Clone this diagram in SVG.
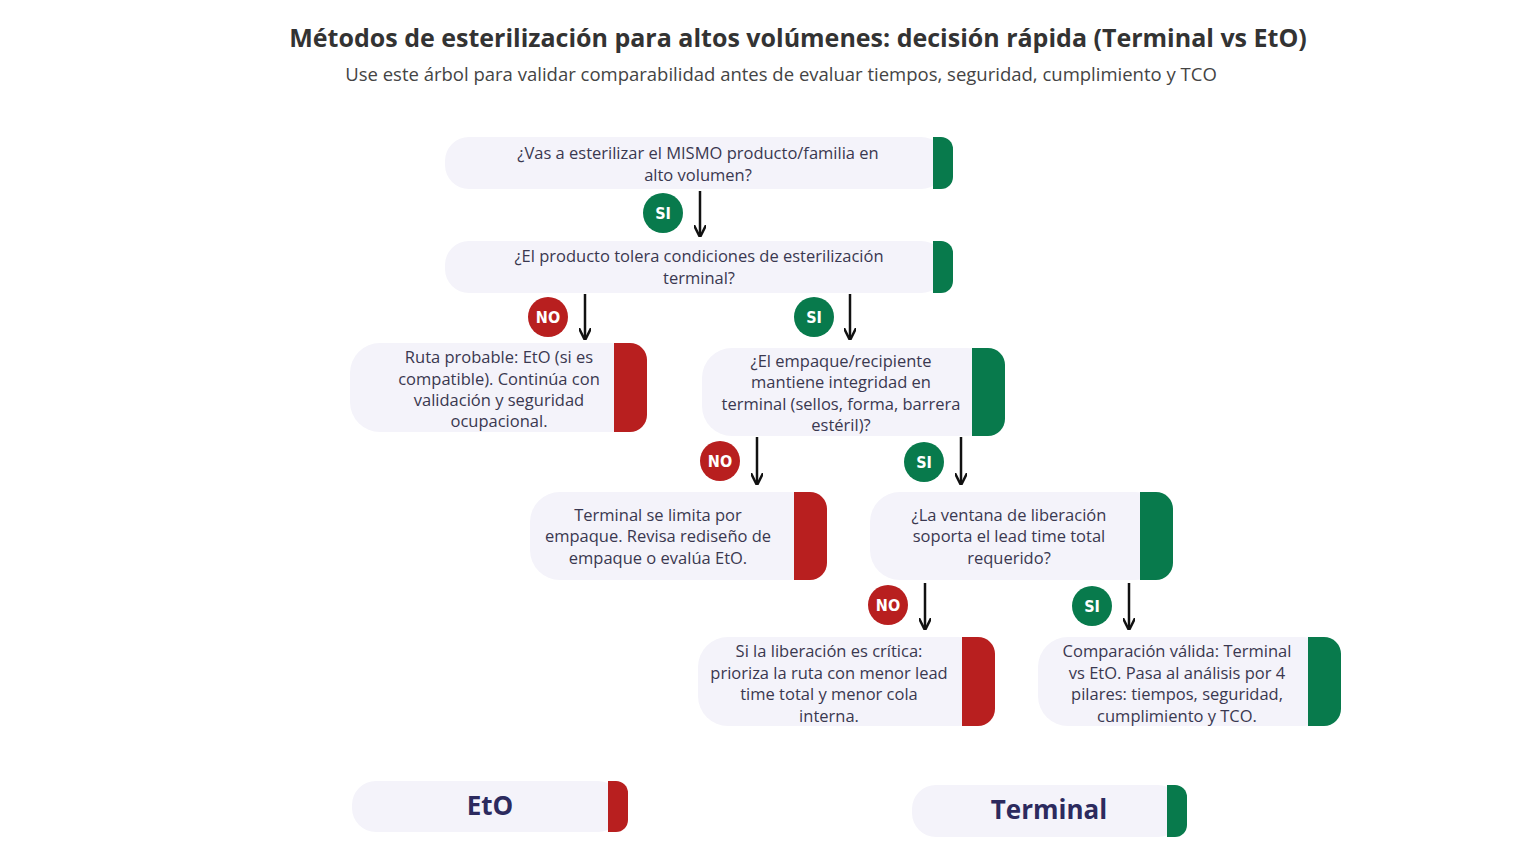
<svg xmlns="http://www.w3.org/2000/svg" width="1536" height="864" viewBox="0 0 1536 864">
<defs>
<style>
.bg{fill:#f4f3fa}
.g{fill:#087a4c}
.r{fill:#b81f1f}
.t{font-family:"Open Sans","Liberation Sans",sans-serif;font-size:16.5px;fill:#3a3850;text-anchor:middle}
.big{font-family:"Open Sans","Liberation Sans",sans-serif;font-size:26px;font-weight:bold;fill:#2c2a5e;text-anchor:middle}
.b{font-family:"DejaVu Sans Condensed","DejaVu Sans",sans-serif;font-weight:bold;font-size:16px;fill:#fff;text-anchor:middle}
.c{stroke:#111;stroke-width:2.5;fill:none;marker-end:url(#ah)}
</style>
<marker id="ah" viewBox="0 0 10 10" refX="9" refY="5" markerWidth="5" markerHeight="5" orient="auto"><path d="M0,0 L10,5 L0,10" fill="none" stroke="#111" stroke-width="2"/></marker>
</defs>
<rect width="1536" height="864" fill="#fff"/>
<text x="798" y="47" font-family="Open Sans,Liberation Sans,sans-serif" font-size="25" font-weight="bold" fill="#333" text-anchor="middle">Métodos de esterilización para altos volúmenes: decisión rápida (Terminal vs EtO)</text>
<text x="781" y="81" font-family="Open Sans,Liberation Sans,sans-serif" font-size="18.5" fill="#444" text-anchor="middle">Use este árbol para validar comparabilidad antes de evaluar tiempos, seguridad, cumplimiento y TCO</text>

<g id="n1"><rect class="bg" x="445" y="137" width="500" height="52" rx="24"/><path class="g" d="M933,137h8a12,12 0 0 1 12,12v28a12,12 0 0 1 -12,12h-8z"/><text class="t" x="698" y="159">¿Vas a esterilizar el MISMO producto/familia en</text><text class="t" x="698" y="181">alto volumen?</text></g>
<g id="n2"><rect class="bg" x="445" y="241" width="500" height="52" rx="24"/><path class="g" d="M933,241h8a12,12 0 0 1 12,12v28a12,12 0 0 1 -12,12h-8z"/><text class="t" x="699" y="262">¿El producto tolera condiciones de esterilización</text><text class="t" x="699" y="284">terminal?</text></g>
<g id="n3"><rect class="bg" x="350" y="343" width="290" height="89" rx="30"/><path class="r" d="M614,343h16a17,17 0 0 1 17,17v55a17,17 0 0 1 -17,17h-16z"/><text class="t" x="499" y="363">Ruta probable: EtO (si es</text><text class="t" x="499" y="385">compatible). Continúa con</text><text class="t" x="499" y="406">validación y seguridad</text><text class="t" x="499" y="427">ocupacional.</text></g>
<g id="n4"><rect class="bg" x="702" y="348" width="295" height="88" rx="30"/><path class="g" d="M972,348h16a17,17 0 0 1 17,17v54a17,17 0 0 1 -17,17h-16z"/><text class="t" x="841" y="367">¿El empaque/recipiente</text><text class="t" x="841" y="388">mantiene integridad en</text><text class="t" x="841" y="410">terminal (sellos, forma, barrera</text><text class="t" x="841" y="431">estéril)?</text></g>
<g id="n5"><rect class="bg" x="530" y="492" width="290" height="88" rx="30"/><path class="r" d="M794,492h16a17,17 0 0 1 17,17v54a17,17 0 0 1 -17,17h-16z"/><text class="t" x="658" y="521">Terminal se limita por</text><text class="t" x="658" y="542">empaque. Revisa rediseño de</text><text class="t" x="658" y="564">empaque o evalúa EtO.</text></g>
<g id="n6"><rect class="bg" x="870" y="492" width="295" height="88" rx="30"/><path class="g" d="M1140,492h16a17,17 0 0 1 17,17v54a17,17 0 0 1 -17,17h-16z"/><text class="t" x="1009" y="521">¿La ventana de liberación</text><text class="t" x="1009" y="542">soporta el lead time total</text><text class="t" x="1009" y="564">requerido?</text></g>
<g id="n7"><rect class="bg" x="698" y="637" width="290" height="89" rx="30"/><path class="r" d="M962,637h16a17,17 0 0 1 17,17v55a17,17 0 0 1 -17,17h-16z"/><text class="t" x="829" y="657">Si la liberación es crítica:</text><text class="t" x="829" y="679">prioriza la ruta con menor lead</text><text class="t" x="829" y="700">time total y menor cola</text><text class="t" x="829" y="722">interna.</text></g>
<g id="n8"><rect class="bg" x="1038" y="637" width="295" height="89" rx="30"/><path class="g" d="M1308,637h16a17,17 0 0 1 17,17v55a17,17 0 0 1 -17,17h-16z"/><text class="t" x="1177" y="657">Comparación válida: Terminal</text><text class="t" x="1177" y="679">vs EtO. Pasa al análisis por 4</text><text class="t" x="1177" y="700">pilares: tiempos, seguridad,</text><text class="t" x="1177" y="722">cumplimiento y TCO.</text></g>
<g id="eto"><rect class="bg" x="352" y="781" width="270" height="51" rx="24"/><path class="r" d="M608,781h8a12,12 0 0 1 12,12v27a12,12 0 0 1 -12,12h-8z"/><text class="big" x="490" y="815">EtO</text></g>
<g id="terminal"><rect class="bg" x="912" y="785" width="270" height="52" rx="24"/><path class="g" d="M1167,785h8a12,12 0 0 1 12,12v28a12,12 0 0 1 -12,12h-8z"/><text class="big" x="1049" y="819">Terminal</text></g>

<g id="connectors">
<line class="c" x1="700" y1="191" x2="700" y2="236"/>
<line class="c" x1="585" y1="294" x2="585" y2="339"/>
<line class="c" x1="850" y1="294" x2="850" y2="339"/>
<line class="c" x1="757" y1="437" x2="757" y2="484"/>
<line class="c" x1="961" y1="437" x2="961" y2="484"/>
<line class="c" x1="925" y1="583" x2="925" y2="629"/>
<line class="c" x1="1129" y1="583" x2="1129" y2="629"/>
<g><circle class="g" cx="663" cy="213" r="20"/><text class="b" x="663" y="219">SI</text></g>
<g><circle class="r" cx="548" cy="317" r="20"/><text class="b" x="548" y="323">NO</text></g>
<g><circle class="g" cx="814" cy="317" r="20"/><text class="b" x="814" y="323">SI</text></g>
<g><circle class="r" cx="720" cy="461" r="20"/><text class="b" x="720" y="467">NO</text></g>
<g><circle class="g" cx="924" cy="462" r="20"/><text class="b" x="924" y="468">SI</text></g>
<g><circle class="r" cx="888" cy="605" r="20"/><text class="b" x="888" y="611">NO</text></g>
<g><circle class="g" cx="1092" cy="606" r="20"/><text class="b" x="1092" y="612">SI</text></g>
</g>
</svg>
